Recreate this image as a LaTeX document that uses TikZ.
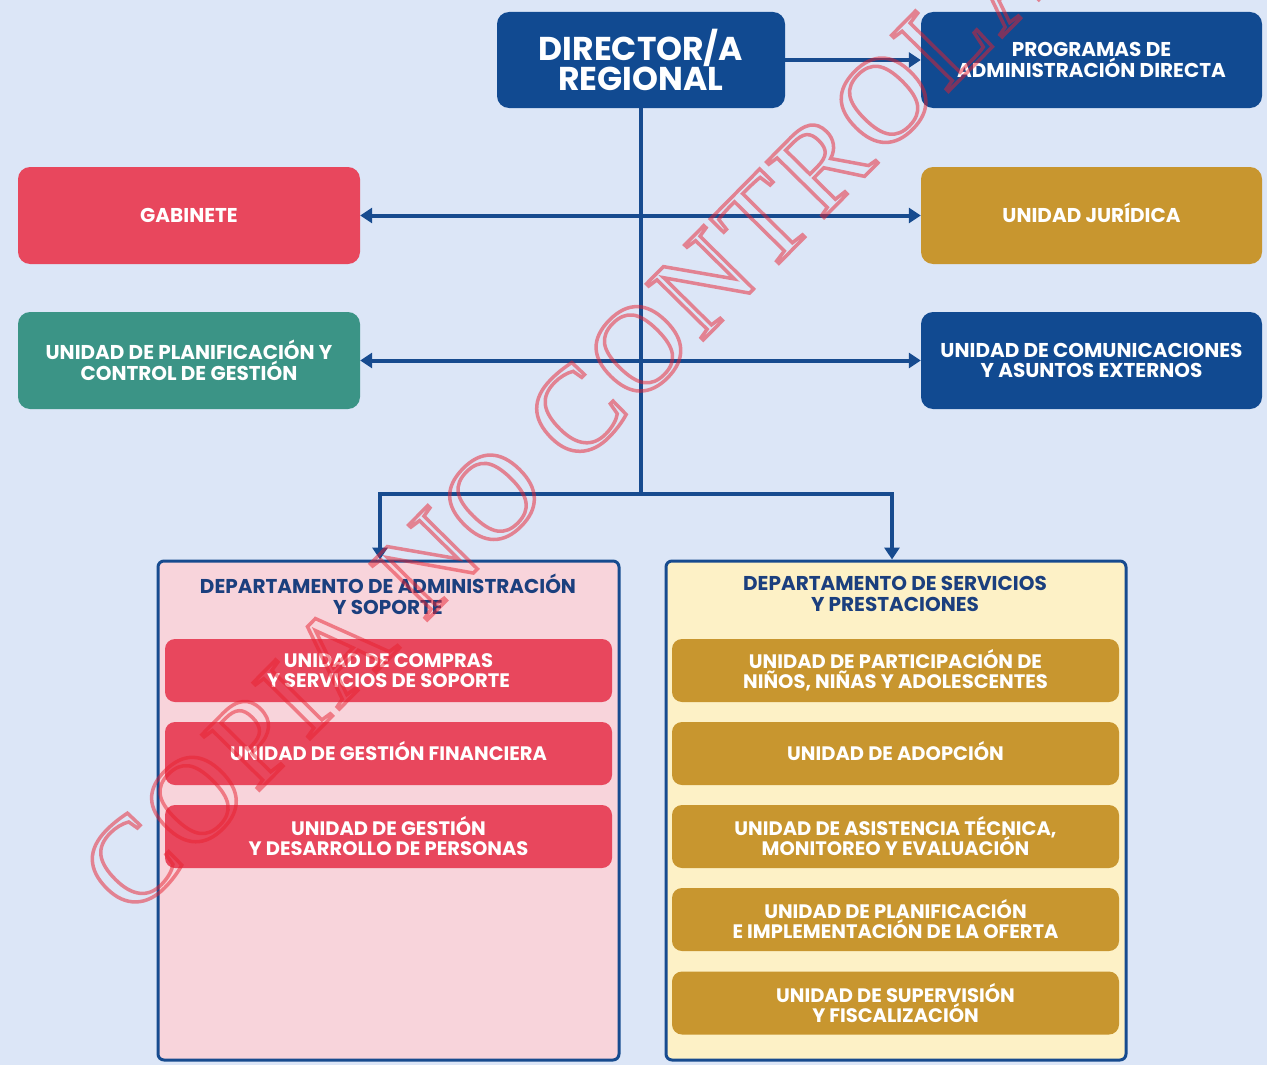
\documentclass[tikz,border=0pt]{standalone}
\usepackage{fontspec}
\setmainfont{Poppins}
\newfontfamily\wmfont{Liberation Serif}[LetterSpace=3.5]
\usetikzlibrary{arrows.meta}
\newcommand\mytight{\lineskiplimit=-40pt\relax\lineskip=0pt\relax}
\definecolor{bgblue}{HTML}{DCE6F7}
\definecolor{dkblue}{HTML}{114A91}
\definecolor{lnblue}{HTML}{174B8F}
\definecolor{ttblue}{HTML}{1B3F7E}
\definecolor{boxred}{HTML}{E8475D}
\definecolor{boxteal}{HTML}{3B9486}
\definecolor{boxgold}{HTML}{C8962F}
\definecolor{pinkbg}{HTML}{F8D4DB}
\definecolor{yellbg}{HTML}{FDF1C6}
\definecolor{wmred}{HTML}{E8202E}
\tikzset{
  unitbox/.style={rounded corners=12pt, minimum width=342pt, minimum height=97pt,
    inner sep=0pt, align=center, text=white,
    font=\bfseries\fontsize{20}{20.5}\selectfont\mytight},
  subbox/.style={rounded corners=10pt, minimum width=447pt, minimum height=63pt,
    inner sep=0pt, align=center, text=white,
    font=\bfseries\fontsize{19.5}{20}\selectfont\mytight},
  oneline/.style={text height=14pt, text depth=0pt},
  deptbox/.style={rounded corners=6pt, draw=lnblue, line width=3pt,
    minimum height=499pt, inner sep=0pt},
  depttitle/.style={inner sep=0pt, align=center, text=ttblue,
    font=\bfseries\fontsize{20}{21}\selectfont\mytight},
  conn/.style={draw=lnblue, line width=4pt},
  mytip/.tip={Triangle[length=12pt,width=15pt]},
  wm/.style={inner sep=0pt, text=wmred, opacity=0.5,
    font=\wmfont\fontsize{122}{122}\selectfont}
}
\begin{document}
\begin{tikzpicture}[x=1pt,y=-1pt]
\useasboundingbox (0,0) rectangle (1267,1065);
\fill[bgblue] (0,0) rectangle (1267,1065);

% top row
\node[unitbox, fill=dkblue, minimum width=288pt, minimum height=96pt,
  font=\bfseries\fontsize{33}{30}\selectfont\mytight] (dir) at (641,60) {DIRECTOR/A\\REGIONAL};
\node[unitbox, fill=dkblue, minimum width=341pt, minimum height=96pt] (prog) at (1091.5,60)
  {PROGRAMAS DE\\ADMINISTRACIÓN DIRECTA};

% side units
\node[unitbox, oneline, fill=boxred] (gab) at (189,215.5) {GABINETE};
\node[unitbox, oneline, fill=boxgold, minimum width=341pt] (jur) at (1091.5,215.5) {UNIDAD JURÍDICA};
\node[unitbox, fill=boxteal] (plan) at (189,360.5) {UNIDAD DE PLANIFICACIÓN Y\\CONTROL DE GESTIÓN};
\node[unitbox, fill=dkblue, minimum width=341pt] (com) at (1091.5,360.5) {UNIDAD DE COMUNICACIONES\\Y ASUNTOS EXTERNOS};

% departments
\node[deptbox, fill=pinkbg, minimum width=461pt] (adm) at (388.5,810.5) {};
\node[deptbox, fill=yellbg, minimum width=460pt] (ser) at (896,810.5) {};
\node[depttitle] (admt) at (388,594) {DEPARTAMENTO DE ADMINISTRACIÓN\\Y SOPORTE};
\node[depttitle] (sert) at (895,594) {DEPARTAMENTO DE SERVICIOS\\Y PRESTACIONES};

\node[subbox, fill=boxred] (a1) at (388.5,670.5) {UNIDAD DE COMPRAS\\Y SERVICIOS DE SOPORTE};
\node[subbox, oneline, fill=boxred] (a2) at (388.5,753.5) {UNIDAD DE GESTIÓN FINANCIERA};
\node[subbox, fill=boxred] (a3) at (388.5,836.5) {UNIDAD DE GESTIÓN\\Y DESARROLLO DE PERSONAS};

\node[subbox, fill=boxgold] (s1) at (895.5,670.5) {UNIDAD DE PARTICIPACIÓN DE\\NIÑOS, NIÑAS Y ADOLESCENTES};
\node[subbox, oneline, fill=boxgold] (s2) at (895.5,753.5) {UNIDAD DE ADOPCIÓN};
\node[subbox, fill=boxgold] (s3) at (895.5,836.5) {UNIDAD DE ASISTENCIA TÉCNICA,\\MONITOREO Y EVALUACIÓN};
\node[subbox, fill=boxgold] (s4) at (895.5,919.5) {UNIDAD DE PLANIFICACIÓN\\E IMPLEMENTACIÓN DE LA OFERTA};
\node[subbox, fill=boxgold] (s5) at (895.5,1003) {UNIDAD DE SUPERVISIÓN\\Y FISCALIZACIÓN};

% connectors
\coordinate (br) at (641,494);
\draw[conn, -{mytip}] (dir.east) -- (prog.west);
\draw[conn] (dir.south) -- (br);
\draw[conn, {mytip}-{mytip}] (gab.east) -- (jur.west);
\draw[conn, {mytip}-{mytip}] (plan.east) -- (com.west);
\draw[conn, -{mytip}] (br) -| ([xshift=-8.5pt]adm.north);
\draw[conn, -{mytip}] (br) -| ([xshift=-4pt]ser.north);

% watermark
\node[wm, rotate=45.4, anchor=west] (wmk) at (103,892)
  {\special{pdf:literal 1 Tr 3.5 w}COPIA NO CONTROLADA\special{pdf:literal 0 Tr}};
\end{tikzpicture}
\end{document}
